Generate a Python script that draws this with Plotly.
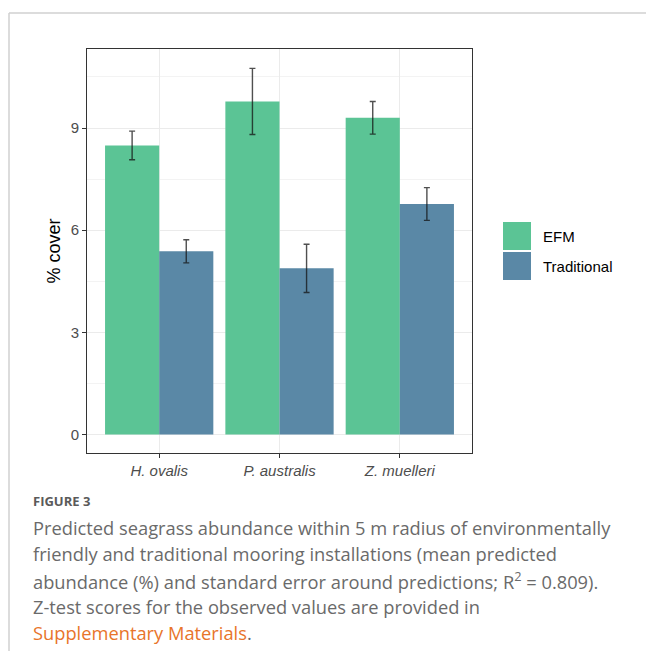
import plotly.graph_objects as go

species = ["H. ovalis", "P. australis", "Z. muelleri"]
efm_mean = [8.49, 9.78, 9.30]
efm_se = [0.42, 0.97, 0.48]
trad_mean = [5.38, 4.88, 6.77]
trad_se = [0.34, 0.71, 0.48]
groups = ["EFM", "Traditional"]
colors = ["#5BC495", "#5A88A6"]
y_ticks = [0, 3, 6, 9]

caption_title = "FIGURE 3"
caption_lines = [
    "Predicted seagrass abundance within 5 m radius of environmentally",
    "friendly and traditional mooring installations (mean predicted",
    "abundance (%) and standard error around predictions; R<sup>2</sup> = 0.809).",
    "Z-test scores for the observed values are provided in",
    "<span style='color:#E8742A'>Supplementary Materials</span>.",
]

W, H = 646, 651
L, R, T, B = 87, 472, 49, 453


def px(x):
    return (x - L) / (R - L)


def py(y):
    return (B - y) / (B - T)


fig = go.Figure()
for name, means, ses, col in [
    (groups[0], efm_mean, efm_se, colors[0]),
    (groups[1], trad_mean, trad_se, colors[1]),
]:
    fig.add_trace(go.Bar(
        x=list(range(len(species))), y=means, name=name,
        marker=dict(color=col, line=dict(width=0)),
        error_y=dict(type="data", array=ses, visible=True,
                     color="rgba(20,20,20,0.75)", thickness=1.4, width=3),
        showlegend=False,
    ))

font_chart = "Liberation Sans, Arial, sans-serif"

fig.update_layout(
    width=W, height=H,
    margin=dict(l=L, r=W - R, t=T, b=H - B, pad=0),
    paper_bgcolor="white", plot_bgcolor="white",
    barmode="group", bargap=0.1, bargroupgap=0,
    font=dict(family=font_chart, color="#4D4D4D", size=13),
    xaxis=dict(
        range=[-0.6, 2.6], tickmode="array",
        tickvals=list(range(len(species))),
        ticktext=[f"<i>{s}</i>" for s in species],
        showgrid=True, gridcolor="#EBEBEB", gridwidth=1,
        showline=True, mirror=True, linecolor="#333333", linewidth=1,
        ticks="outside", ticklen=4, tickcolor="#333333", tickwidth=1,
        tickfont=dict(size=15, color="#4D4D4D"),
        zeroline=False,
    ),
    yaxis=dict(
        range=[-0.54, 11.32], tickmode="array", tickvals=y_ticks,
        ticktext=[str(v) for v in y_ticks],
        showgrid=True, gridcolor="#EBEBEB", gridwidth=1,
        minor=dict(tickmode="linear", tick0=1.5, dtick=3, showgrid=True,
                   gridcolor="#F3F3F3", gridwidth=1, ticks=""),
        showline=True, mirror=True, linecolor="#333333", linewidth=1,
        ticks="outside", ticklen=4, tickcolor="#333333", tickwidth=1,
        tickfont=dict(size=15, color="#4D4D4D"),
        zeroline=False,
        title=dict(text="% cover", font=dict(size=18, color="black"), standoff=5),
    ),
)

# page frame
fig.add_shape(type="line", xref="paper", yref="paper",
              x0=px(9), x1=px(W + 5), y0=py(13), y1=py(13),
              line=dict(color="#D0D0D0", width=1.5))
fig.add_shape(type="line", xref="paper", yref="paper",
              x0=px(9), x1=px(9), y0=py(13), y1=py(H + 5),
              line=dict(color="#D0D0D0", width=1.5))

# legend (manual keys)
key_tops = [222, 252]
for g, c, top in zip(groups, colors, key_tops):
    fig.add_shape(type="rect", xref="paper", yref="paper",
                  x0=px(503), x1=px(531), y0=py(top + 28), y1=py(top),
                  fillcolor=c, line=dict(width=0))
    fig.add_annotation(xref="paper", yref="paper", x=px(541), y=py(top + 14),
                       text=g, showarrow=False, xanchor="left", yanchor="middle",
                       font=dict(size=15, color="black", family=font_chart))

# caption
cap_font = "Open Sans, Lato, sans-serif"
fig.add_annotation(xref="paper", yref="paper", x=px(31), y=py(501),
                   text="<b>" + caption_title + "</b>", showarrow=False,
                   xanchor="left", yanchor="middle",
                   font=dict(size=13, color="#5A5A5A", family=cap_font))
line_y = [527, 553, 580, 606, 632]
for t, yy in zip(caption_lines, line_y):
    fig.add_annotation(xref="paper", yref="paper", x=px(31), y=py(yy),
                       text=t, showarrow=False, xanchor="left", yanchor="middle",
                       font=dict(size=18.3, color="#6A6A6A", family=cap_font))

fig.write_html("out.html")
